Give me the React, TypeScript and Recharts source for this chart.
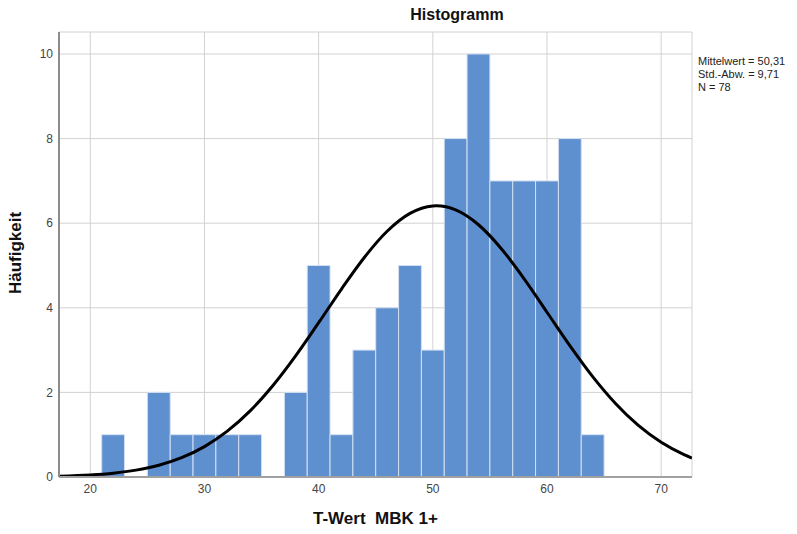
import { ComposedChart, Line, XAxis, YAxis, CartesianGrid, ReferenceArea } from "recharts";

// histogram bins (width 2)
const binStarts = [21, 25, 27, 29, 31, 33, 37, 39, 41, 43, 45, 47, 49, 51, 53, 55, 57, 59, 61, 63];
const binCounts = [1, 2, 1, 1, 1, 1, 2, 5, 1, 3, 4, 5, 3, 8, 10, 7, 7, 7, 8, 1];
const BIN_WIDTH = 2;

// normal curve
const curveX = [17.26, 20, 22, 24, 26, 28, 30, 32, 34, 36, 38, 40, 42, 44, 46, 48, 50, 50.31, 52, 54, 56, 58, 60, 62, 64, 66, 68, 70, 72, 72.7];
const curveY = [0.02, 0.049, 0.091, 0.163, 0.279, 0.457, 0.719, 1.083, 1.563, 2.164, 2.87, 3.648, 4.444, 5.19, 5.809, 6.231, 6.407, 6.41, 6.314, 5.963, 5.398, 4.684, 3.895, 3.105, 2.372, 1.738, 1.219, 0.82, 0.529, 0.449];

const xTicks = [20, 30, 40, 50, 60, 70];
const yTicks = [0, 2, 4, 6, 8, 10];
const statsLines = ["Mittelwert = 50,31", "Std.-Abw. = 9,71", "N = 78"];

const curveData = curveX.map((x, i) => ({ x, y: curveY[i] }));

const FONT = "'Liberation Sans', Arial, sans-serif";

export default function App() {
  return (
    <div style={{ position: "absolute", left: 0, top: 0, width: 797, height: 534, background: "#fff", fontFamily: FONT }}>
      <ComposedChart width={797} height={534} data={curveData} margin={{ top: 32, right: 105, bottom: 27, left: 29 }}>
        <CartesianGrid stroke="#d2d2d2" strokeWidth={1} />
        <XAxis
          dataKey="x"
          type="number"
          domain={[17.26, 72.7]}
          allowDataOverflow
          ticks={xTicks}
          height={30}
          tickLine={false}
          tickSize={5}
          tickMargin={2}
          stroke="#a0a0a0"
          strokeWidth={2}
          tick={{ fill: "#444", fontSize: 12, fontFamily: FONT }}
        />
        <YAxis
          type="number"
          domain={[0, 10.52]}
          allowDataOverflow
          ticks={yTicks}
          width={30}
          tickLine={false}
          tickSize={4}
          tickMargin={2}
          stroke="#8c8c8c"
          strokeWidth={2}
          tick={{ fill: "#444", fontSize: 12, fontFamily: FONT }}
        />
        {binStarts.map((s, i) => (
          <ReferenceArea
            key={s}
            x1={s}
            x2={s + BIN_WIDTH}
            y1={0}
            y2={binCounts[i]}
            fill="#5e8fcf"
            fillOpacity={1}
            stroke="#d3e0f2"
            strokeWidth={1}
            ifOverflow="visible"
          />
        ))}
        <Line type="monotone" dataKey="y" stroke="#000" strokeWidth={3} dot={false} isAnimationActive={false} />
      </ComposedChart>

      <div style={{ position: "absolute", left: 357, top: 6, width: 200, textAlign: "center", fontSize: 16, fontWeight: "bold", color: "#111" }}>
        Histogramm
      </div>
      <div style={{ position: "absolute", left: 698, top: 55, fontSize: 11, lineHeight: "13px", color: "#222" }}>
        {statsLines.map((t) => (
          <div key={t}>{t}</div>
        ))}
      </div>
      <div
        style={{
          position: "absolute",
          left: 16,
          top: 253,
          transform: "translate(-50%, -50%) rotate(-90deg)",
          fontSize: 17,
          fontWeight: "bold",
          color: "#111",
          whiteSpace: "nowrap",
        }}
      >
        Häufigkeit
      </div>
      <div style={{ position: "absolute", left: 313, top: 509, fontSize: 17, fontWeight: "bold", color: "#111", whiteSpace: "pre" }}>
        {"T-Wert  MBK 1+"}
      </div>
    </div>
  );
}
